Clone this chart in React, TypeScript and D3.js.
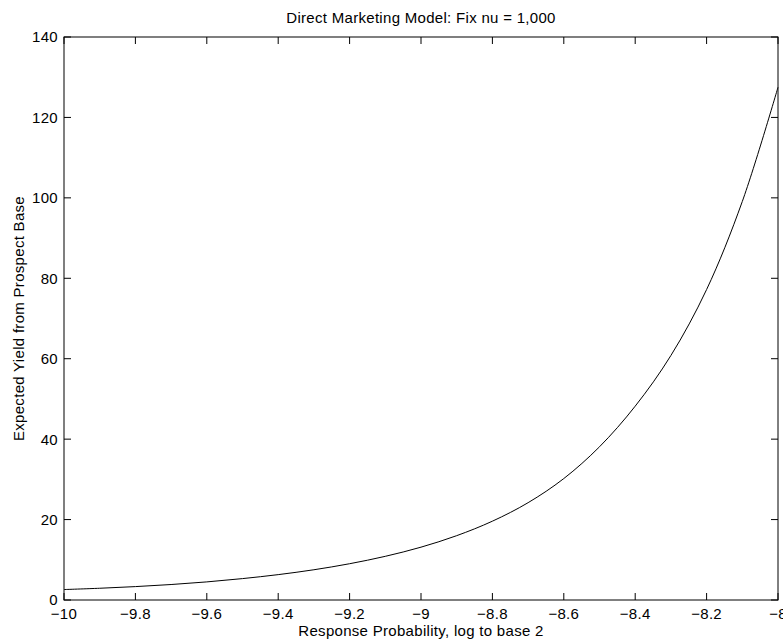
import React from "react";
import * as d3 from "d3";

const xValues = [-10.0, -9.9, -9.8, -9.7, -9.6, -9.5, -9.4, -9.3, -9.2, -9.1, -9.0, -8.9, -8.8, -8.7, -8.6, -8.5, -8.4, -8.3, -8.2, -8.1, -8.0];
const yValues = [2.6, 2.92, 3.33, 3.85, 4.5, 5.32, 6.31, 7.52, 9.02, 10.86, 13.14, 16.0, 19.6, 24.2, 30.2, 38.1, 48.2, 60.8, 77.2, 99.1, 127.5];
const xTicks = [-10, -9.8, -9.6, -9.4, -9.2, -9, -8.8, -8.6, -8.4, -8.2, -8];
const yTicks = [0, 20, 40, 60, 80, 100, 120, 140];

const W = 783;
const H = 644;
const left = 64;
const right = 778;
const top = 37;
const bottom = 600;
const font = "'Liberation Sans', Arial, Helvetica, sans-serif";
const fs = 15;
const ls = 0.3;

const fmt = (v: number) => {
  const s = d3.format("")(Math.round(v * 10) / 10);
  return s.replace("-", "\u2212");
};

export default function App() {
  const x = d3.scaleLinear().domain([-10, -8]).range([left, right]);
  const y = d3.scaleLinear().domain([0, 140]).range([bottom, top]);
  const pts = xValues.map((v, i) => [v, yValues[i]] as [number, number]);
  const line = d3
    .line<[number, number]>()
    .x((d) => x(d[0]))
    .y((d) => y(d[1]))
    .curve(d3.curveCatmullRom.alpha(0.5));
  const tl = 7;
  return (
    <svg width={W} height={H} style={{ position: "absolute", left: 0, top: 0, background: "#fff" }}>
      <rect x={0} y={0} width={W} height={H} fill="#fff" />
      <path d={line(pts) || ""} fill="none" stroke="#000" strokeWidth={1} />
      <rect x={left} y={top} width={right - left} height={bottom - top} fill="none" stroke="#000" strokeWidth={1} />
      {xTicks.map((t) => (
        <g key={"x" + t}>
          <line x1={x(t)} x2={x(t)} y1={bottom} y2={bottom - tl} stroke="#000" />
          <line x1={x(t)} x2={x(t)} y1={top} y2={top + tl} stroke="#000" />
          <text x={x(t)} y={619} textAnchor="middle" fontFamily={font} fontSize={fs} letterSpacing={ls} fill="#000">
            {fmt(t)}
          </text>
        </g>
      ))}
      {yTicks.map((t) => (
        <g key={"y" + t}>
          <line x1={left} x2={left + tl} y1={y(t)} y2={y(t)} stroke="#000" />
          <line x1={right} x2={right - tl} y1={y(t)} y2={y(t)} stroke="#000" />
          <text x={58} y={y(t)} dy="0.36em" textAnchor="end" fontFamily={font} fontSize={fs} letterSpacing={ls} fill="#000">
            {fmt(t)}
          </text>
        </g>
      ))}
      <text x={(left + right) / 2} y={23} textAnchor="middle" fontFamily={font} fontSize={fs} letterSpacing={ls} fill="#000">
        Direct Marketing Model: Fix nu = 1,000
      </text>
      <text x={(left + right) / 2} y={636} textAnchor="middle" fontFamily={font} fontSize={fs} letterSpacing={ls} fill="#000">
        Response Probability, log to base 2
      </text>
      <text
        transform={`translate(24, ${(top + bottom) / 2}) rotate(-90)`}
        textAnchor="middle"
        fontFamily={font}
        fontSize={fs}
        letterSpacing={ls}
        fill="#000"
      >
        Expected Yield from Prospect Base
      </text>
    </svg>
  );
}
